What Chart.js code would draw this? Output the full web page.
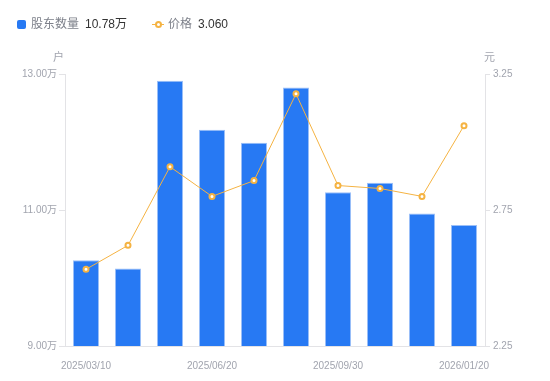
<!DOCTYPE html>
<html>
<head>
<meta charset="utf-8">
<script src="https://cdn.jsdelivr.net/npm/chart.js@4.4.1/dist/chart.umd.min.js"></script>
<style>
  html, body { margin: 0; padding: 0; background: #fff; }
  #wrap { position: relative; width: 550px; height: 381px; font-family: "Liberation Sans", Arial, "Noto Sans CJK SC", sans-serif; }
  #c { position: absolute; left: 0; top: 0; }
  .lg { position: absolute; top: 16px; font-size: 12px; line-height: 16px; white-space: nowrap; }
  .lbl { color: #7d808a; }
  .val { color: #333; margin-left: 6px; }
  .unit { position: absolute; font-size: 11px; color: #a1a4ae; line-height: 12px; }
</style>
</head>
<body>
<div id="wrap">
  <canvas id="c" width="550" height="381"></canvas>
  <div class="lg" style="left:17px;">
    <span style="display:inline-block;width:9px;height:9px;background:#2779F3;border-radius:2px;vertical-align:-1px;margin-right:5px;"></span><span class="lbl" id="l1"></span><span class="val" id="v1"></span>
  </div>
  <div class="lg" style="left:152px;">
    <span style="display:inline-block;position:relative;width:12px;height:9px;vertical-align:-1px;margin-right:4px;">
      <span style="position:absolute;left:0;top:4px;width:12px;height:1px;background:#F5B342;"></span>
      <span style="position:absolute;left:3px;top:1px;width:3px;height:3px;border:2px solid #F5B342;border-radius:50%;background:#fff;"></span>
    </span><span class="lbl" id="l2"></span><span class="val" id="v2"></span>
  </div>
  <div class="unit" style="left:53px;top:51px;">户</div>
  <div class="unit" style="left:484px;top:51px;">元</div>
</div>
<script>
const categories = ['2025/03/10','2025/03/31','2025/04/30','2025/06/20','2025/06/30','2025/08/31','2025/09/30','2025/10/31','2025/12/31','2026/01/20'];
const holders = [10.26, 10.14, 12.90, 12.18, 11.99, 12.80, 11.26, 11.40, 10.95, 10.78];
const prices = [2.532, 2.620, 2.909, 2.800, 2.858, 3.177, 2.840, 2.829, 2.800, 3.060];
const seriesNames = ['股东数量', '价格'];
const leftTicks = [9, 11, 13];
const rightTicks = [2.25, 2.75, 3.25];

document.getElementById('l1').textContent = seriesNames[0];
document.getElementById('v1').textContent = holders[holders.length-1].toFixed(2) + '万';
document.getElementById('l2').textContent = seriesNames[1];
document.getElementById('v2').textContent = prices[prices.length-1].toFixed(3);

const tickColor = '#a1a4ae';
const lineColor = '#e3e3e6';
const font = { family: '"Liberation Sans", Arial, "Noto Sans CJK SC", sans-serif', size: 10 };

new Chart(document.getElementById('c'), {
  data: {
    labels: categories,
    datasets: [
      {
        type: 'line', label: seriesNames[1], data: prices, yAxisID: 'y1',
        borderColor: '#F5B342', borderWidth: 1, pointRadius: 2.5, pointBorderWidth: 2,
        pointBackgroundColor: '#fff', pointBorderColor: '#F5B342', tension: 0, order: 0
      },
      {
        type: 'bar', label: seriesNames[0], data: holders, yAxisID: 'y',
        backgroundColor: '#2779F3', borderColor: '#9CC0F8', borderWidth: {top:1,left:1,right:1,bottom:0},
        barPercentage: 0.62, categoryPercentage: 1, order: 1
      }
    ]
  },
  options: {
    responsive: false, animation: false,
    layout: { padding: { top: 74, left: 0, right: 0, bottom: 0 } },
    plugins: { legend: { display: false }, tooltip: { enabled: false } },
    scales: {
      x: {
        grid: { display: false },
        border: { display: true, color: lineColor },
        ticks: { color: tickColor, font, autoSkip: false, maxRotation: 0, padding: 6,
          callback: function(v, i) { return i % 3 === 0 ? this.getLabelForValue(v) : ''; } },
        afterFit: s => { s.height = 35; }
      },
      y: {
        position: 'left', min: 9, max: 13,
        afterBuildTicks: s => { s.ticks = leftTicks.map(v => ({ value: v })); },
        grid: { drawOnChartArea: false, tickLength: 6, color: lineColor },
        border: { display: true, color: lineColor },
        ticks: { color: tickColor, font, padding: 2, callback: v => v.toFixed(2) + '万' },
        afterFit: s => { s.width = 65; }
      },
      y1: {
        position: 'right', min: 2.25, max: 3.25,
        afterBuildTicks: s => { s.ticks = rightTicks.map(v => ({ value: v })); },
        grid: { drawOnChartArea: false, tickLength: 5, color: lineColor },
        border: { display: true, color: lineColor },
        ticks: { color: tickColor, font, padding: 3, callback: v => v.toFixed(2) },
        afterFit: s => { s.width = 65; }
      }
    }
  }
});
</script>
</body>
</html>
